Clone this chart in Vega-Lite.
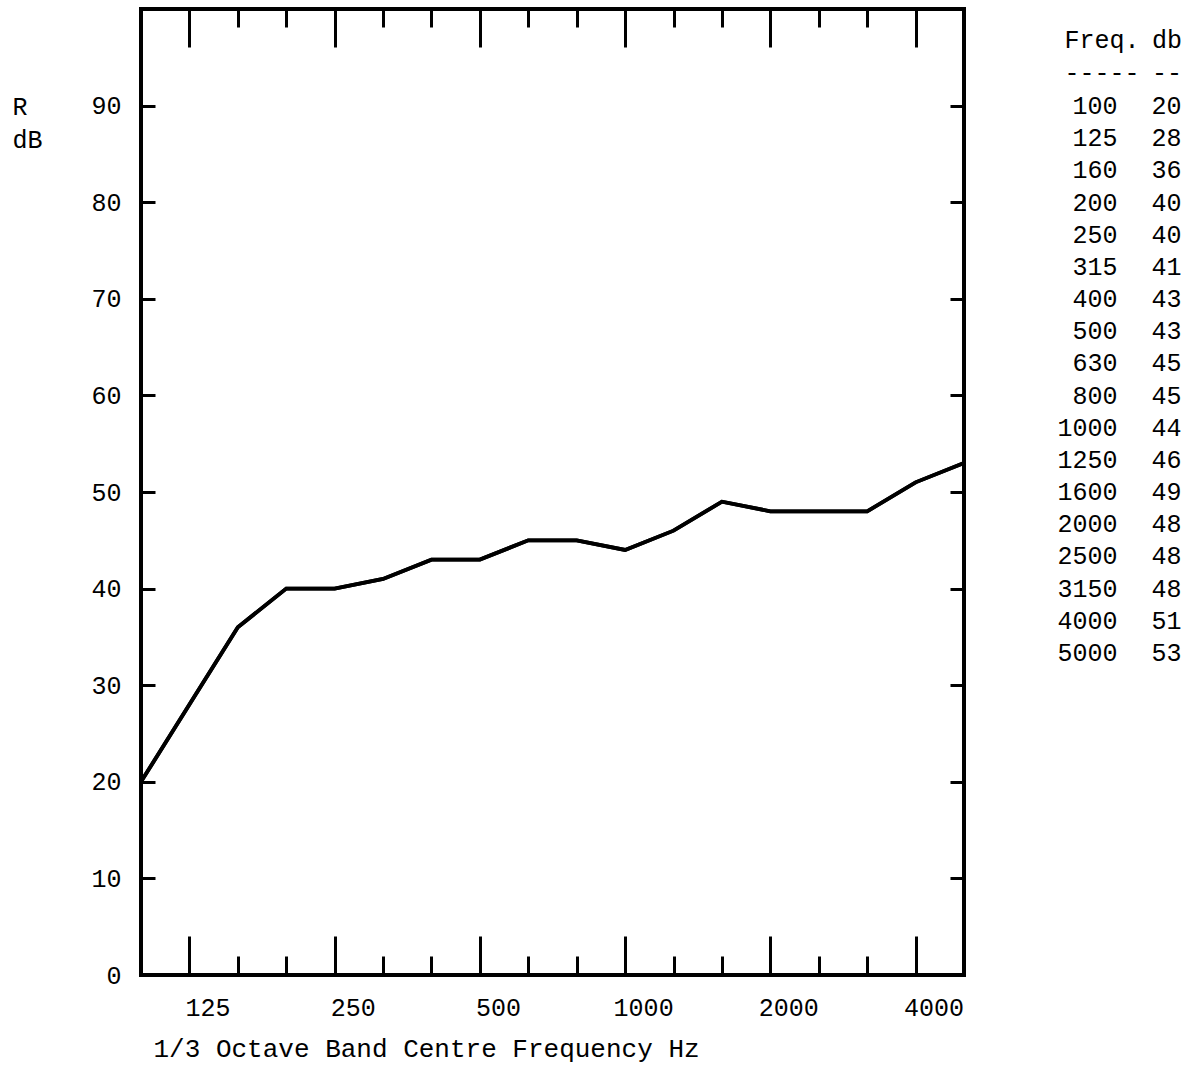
{
  "$schema": "https://vega.github.io/schema/vega-lite/v6.json",
  "padding": {"left": 10, "top": 5, "right": 5, "bottom": 5},
  "background": "white",
  "config": {
    "font": "Liberation Mono",
    "view": {"stroke": null},
    "axis": {
      "labelFont": "Liberation Mono", "titleFont": "Liberation Mono",
      "labelColor": "black", "titleColor": "black", "tickColor": "black",
      "labelFontSize": 25, "titleFontSize": 25, "titleFontWeight": "normal",
      "grid": false, "domain": false
    }
  },
  "datasets": {
    "r": [
      {"freq": 100, "db": 20}, {"freq": 125, "db": 28}, {"freq": 160, "db": 36},
      {"freq": 200, "db": 40}, {"freq": 250, "db": 40}, {"freq": 315, "db": 41},
      {"freq": 400, "db": 43}, {"freq": 500, "db": 43}, {"freq": 630, "db": 45},
      {"freq": 800, "db": 45}, {"freq": 1000, "db": 44}, {"freq": 1250, "db": 46},
      {"freq": 1600, "db": 49}, {"freq": 2000, "db": 48}, {"freq": 2500, "db": 48},
      {"freq": 3150, "db": 48}, {"freq": 4000, "db": 51}, {"freq": 5000, "db": 53}
    ]
  },
  "spacing": 83,
  "hconcat": [
    {
      "width": 823, "height": 966,
      "view": {"stroke": "black", "strokeWidth": 4},
      "data": {"name": "r"},
      "layer": [
        {
          "mark": {"type": "line", "color": "black", "strokeWidth": 3.8},
          "encoding": {
            "x": {"field": "freq", "type": "ordinal", "scale": {"type": "point", "padding": 0},
              "axis": {"orient": "bottom",
                "values": [125,160,200,250,315,400,500,630,800,1000,1250,1600,2000,2500,3150,4000],
                "tickWidth": 3,
                "tickSize": {"condition": {"test": "indexof([125,250,500,1000,2000,4000], datum.value) >= 0", "value": -39}, "value": -19},
                "labelExpr": "indexof([125,250,500,1000,2000,4000], datum.value) >= 0 ? datum.label : ''",
                "labelOffset": 18, "labelAngle": 0, "labelBaseline": "alphabetic", "labelPadding": 79,
                "title": "1/3 Octave Band Centre Frequency Hz",
                "titleAnchor": "start", "titleAlign": "left", "titleX": 12, "titleY": 81,
                "titleBaseline": "alphabetic", "titleFontSize": 26}},
            "y": {"field": "db", "type": "quantitative", "scale": {"domain": [0, 100], "nice": false},
              "axis": {"orient": "left", "values": [0,10,20,30,40,50,60,70,80,90],
                "tickSize": -14, "tickWidth": 3, "labelPadding": 34,
                "title": ["R", "dB"], "titleAngle": 0, "titleAlign": "left", "titleBaseline": "alphabetic",
                "titleX": -129, "titleY": 105, "titleLineHeight": 33}}
          }
        },
        {
          "mark": {"type": "line", "color": "black", "strokeWidth": 3.8},
          "encoding": {
            "x": {"field": "freq", "type": "ordinal",
              "axis": {"orient": "top",
                "values": [125,160,200,250,315,400,500,630,800,1000,1250,1600,2000,2500,3150,4000],
                "tickWidth": 3,
                "tickSize": {"condition": {"test": "indexof([125,250,500,1000,2000,4000], datum.value) >= 0", "value": -38}, "value": -18},
                "labels": false, "title": null}},
            "y": {"field": "db", "type": "quantitative",
              "axis": {"orient": "right", "values": [10,20,30,40,50,60,70,80,90],
                "tickSize": -14, "tickWidth": 3, "labels": false, "title": null}}
          }
        }
      ],
      "resolve": {"axis": {"x": "independent", "y": "independent"}}
    },
    {
      "width": 110, "height": 966,
      "data": {"name": "r"},
      "layer": [
        {
          "mark": {"type": "text", "align": "right", "dx": 16, "fontSize": 25, "font": "Liberation Mono", "color": "black", "baseline": "middle"},
          "encoding": {
            "x": {"datum": "Freq.", "type": "nominal",
              "scale": {"type": "point", "domain": ["Freq.", "db"], "padding": 0.346},
              "axis": {"orient": "top", "offset": -30, "ticks": false, "domain": false, "labelPadding": 0,
                "labelBaseline": "middle", "labelLineHeight": 33, "labelAngle": 0,
                "labelExpr": "datum.value == 'Freq.' ? ['Freq.', '-----'] : ['db', '--']", "title": null}},
            "y": {"field": "freq", "type": "ordinal", "scale": {"type": "point", "range": [97, 644], "padding": 0}, "axis": null},
            "text": {"field": "freq", "type": "nominal"}
          }
        },
        {
          "mark": {"type": "text", "align": "left", "dx": -15, "fontSize": 25, "font": "Liberation Mono", "color": "black", "baseline": "middle"},
          "encoding": {
            "x": {"datum": "db", "type": "nominal"},
            "y": {"field": "freq", "type": "ordinal"},
            "text": {"field": "db", "type": "nominal"}
          }
        }
      ]
    }
  ]
}
